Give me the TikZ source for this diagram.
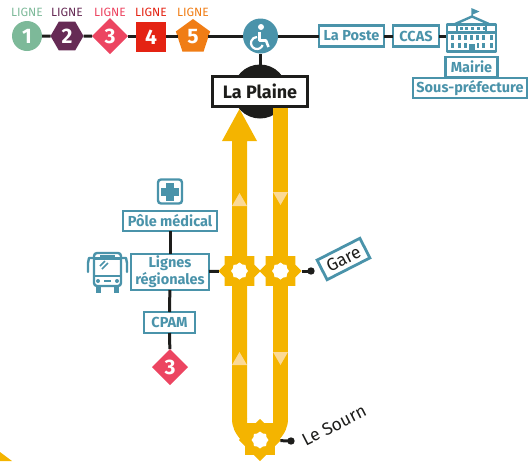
\documentclass[tikz,border=0pt]{standalone}
\usepackage{fontspec}
\setmainfont{Fira Sans}
\usepackage{tikz}
\usetikzlibrary{shapes}
\definecolor{Teal}{RGB}{74,147,170}
\definecolor{Ink}{RGB}{29,29,27}
\definecolor{Gold}{RGB}{244,180,0}
\definecolor{PaleGold}{RGB}{251,217,150}
\definecolor{LineOne}{RGB}{125,185,153}
\definecolor{LineTwo}{RGB}{102,43,85}
\definecolor{LineThree}{RGB}{236,69,97}
\definecolor{LineFour}{RGB}{228,35,19}
\definecolor{LineFive}{RGB}{240,125,21}
\tikzset{
	lineno/.style={text=white, inner sep=0pt, outer sep=0pt, font=\fontsize{21}{21}\selectfont\bfseries},
	linetag/.style={inner sep=0pt, font=\fontsize{12}{12}\selectfont},
	tealbox/.style={draw=Teal, line width=2.8pt, fill=white, text=Teal, inner sep=0pt, outer sep=0pt, align=center, font=\fontsize{14.5}{17}\selectfont\bfseries},
	link/.style={draw=Ink, line width=3pt},
	stationmark/.style={star, star points=8, star point ratio=1.3, minimum size=42pt, inner sep=0pt, outer sep=0pt, fill=Gold},
	stationhole/.style={star, star points=8, star point ratio=1.2, minimum size=17pt, inner sep=0pt, outer sep=0pt, fill=white},
	stopname/.style={text=Ink, inner sep=0pt, font=\fontsize{17.5}{18}\selectfont},
	icon/.style={draw=Teal, line width=2.4pt, line join=round},
}
\begin{document}
\begin{tikzpicture}[x=1pt,y=-1pt]
	\useasboundingbox (0,0) rectangle (528,461);

	\fill [Gold] (0,452) -- (12,461) -- (0,461) -- cycle;

	\node [linetag, text=LineOne] at (27,12) {LIGNE};
	\node [linetag, text=LineTwo] at (67,12) {LIGNE};
	\node [linetag, text=LineThree] at (110,12) {LIGNE};
	\node [linetag, text=LineFour] at (151,12) {LIGNE};
	\node [linetag, text=LineFive] at (193,12) {LIGNE};

	\node [lineno, fill=LineOne, circle, minimum size=30pt] (one) at (27,36) {1};
	\node [lineno, fill=LineTwo, regular polygon, regular polygon sides=6, minimum size=33pt] (two) at (67,36) {2};
	\node [lineno, fill=LineThree, diamond, minimum size=36pt] (three) at (110,36) {3};
	\node [lineno, fill=LineFour, minimum size=30pt] (four) at (151,37) {4};
	\node [lineno, fill=LineFive, regular polygon, regular polygon sides=5, minimum size=36pt] (five) at (193,37) {5};
	\node [fill=Teal, circle, minimum size=35pt, inner sep=0pt, outer sep=0pt] (access) at (260.5,36) {};

	\fill [white] (261,27) circle [radius=3];
	\draw [white, line width=2.2pt] (257,43) ++(20:6) arc [radius=6, start angle=20, end angle=270];
	\draw [white, line width=2.6pt, line join=round] (259.5,32) -- (259.5,40.5) -- (266,40.5) -- (268.5,47);

	\node [tealbox, minimum width=65pt, minimum height=21pt] (poste) at (351.5,36) {La Poste};
	\node [tealbox, minimum width=46pt, minimum height=21pt] (ccas) at (416,36) {CCAS};
	\node [tealbox, minimum width=52pt, minimum height=20pt] (mairie) at (471.5,67) {Mairie};
	\node [tealbox, minimum width=114pt, minimum height=20pt] (prefecture) at (470,88) {Sous-préfecture};
	\coordinate (townhall) at (446,36);

	\draw [link] (one) -- (two);
	\draw [link] (two) -- (three);
	\draw [link] (three) -- (three -| four.west);
	\draw [link] (one -| four.east) -- (one -| five.west);
	\draw [link] (one -| five.east) -- (access);
	\draw [link] (access) -- (poste);
	\draw [link] (poste) -- (ccas);
	\draw [link] (ccas) -- (townhall);

	\fill [Teal] (471.3,17) -- (471.3,8) -- (479.5,11.5) -- (472.8,14.5) -- (472.8,17) -- cycle;
	\draw [icon, fill=white] (455,24) -- (472,16.5) -- (489,24);
	\draw [icon, fill=white] (447,24.5) rectangle (496,51.5);
	\draw [icon] (447,32.5) -- (496,32.5);
	\draw [icon] (457,24.5) -- (457,32.5); \draw [icon] (486,24.5) -- (486,32.5);
	\foreach \x in {459.5,465,471,477,483}
		\fill [Teal] (\x,27) rectangle ++(3,3);
	\foreach \x in {450.5,458,464,470,476,482,489.5}{
		\fill [Teal] (\x,35) rectangle ++(3,5);
		\fill [Teal] (\x,43) rectangle ++(3,5);
	}
	\fill [white] (467.5,42) rectangle (476.5,50);
	\fill [Teal] (469,44) rectangle (475,52);

	\fill [Ink] (260,91.5) circle [radius=27];
	\node [draw=Ink, line width=3pt, fill=white, text=Ink, inner sep=0pt, outer sep=0pt, minimum width=95pt, minimum height=30pt, font=\fontsize{18}{18}\selectfont\bfseries] (plaine) at (260,91.5) {La Plaine};
	\draw [link] (access) -- (260.5,65);

	\fill [Gold] (239.5,109) -- (257,141) -- (247,141) -- (247,419) -- (232,419) -- (232,141) -- (222,141) -- cycle;
	\fill [Gold] (273,108) rectangle (288,419);
	\fill [Gold] (232,418.5) .. controls (232,427) and (235,433) .. (241,440) -- (279,440) .. controls (285,433) and (288,427) .. (288,418.5) -- (273,418.5) -- (273,423) -- (247,423) -- (247,418.5) -- cycle;

	\foreach \y in {193,352}
		\fill [PaleGold] (239.5,\y) -- ++(7.5,13) -- ++(-15,0) -- cycle;
	\foreach \y in {192,352}
		\fill [PaleGold] (280.5,\y+13) -- ++(7.5,-13) -- ++(-15,0) -- cycle;

	\node [stationmark] (west) at (239.5,271) {};
	\node [stationmark] (east) at (280.5,271) {};
	\node [stationmark] (sourn) at (260,440) {};
	\node [stationhole] at (west) {};
	\node [stationhole] at (east) {};
	\node [stationhole] at (sourn) {};

	\coordinate (gareend) at (311,271);
	\coordinate (sournend) at (291,441);
	\draw [link] (east) -- (gareend);
	\draw [link] (sourn) -- (sournend);
	\fill [Ink] (gareend) circle [radius=3.7];
	\fill [Ink] (sournend) circle [radius=3.7];
	\node [draw=Teal, line width=2.8pt, fill=white, minimum width=48pt, minimum height=22pt, rotate=27, stopname, inner sep=0pt] (gare) at (343.5,259) {Gare};
	\node [stopname, rotate=27] (sournlabel) at (334,425.5) {Le Sourn};

	\node [draw=Teal, line width=2.4pt, fill=white, rounded corners=3pt, minimum size=24pt, inner sep=0pt, outer sep=0pt] (health) at (170,191.5) {};
	\fill [Teal] (166,182.5) rectangle (174,200.5);
	\fill [Teal] (161,187.5) rectangle (179,195.5);

	\node [tealbox, minimum width=94pt, minimum height=20pt] (pole) at (170,221) {Pôle médical};
	\node [tealbox, minimum width=78pt, minimum height=36pt] (regional) at (170,272) {Lignes\\régionales};
	\node [tealbox, minimum width=51pt, minimum height=21pt] (cpam) at (169.5,322.5) {CPAM};
	\node [lineno, fill=LineThree, diamond, minimum size=36pt] (stop) at (170,367) {3};
	\draw [link] (pole) -- (regional);
	\draw [link] (regional) -- (cpam);
	\draw [link] (cpam) -- (stop);
	\draw [link] (regional) -- (west);

	\draw [icon, fill=white, rounded corners=3pt] (94,253) rectangle (121,286);
	\draw [icon] (95,276) -- (120,276);
	\draw [icon] (95,258.5) -- (120,258.5);
	\fill [Teal] (100,254.5) rectangle (115,256.5);
	\draw [icon, line width=1.5pt] (100,266) -- (105,261);
	\draw [icon, line width=1.5pt] (102,269) -- (108,263);
	\draw [icon, line cap=round] (93,258) -- (89,258) -- (88,263) -- (88,272);
	\draw [icon, line cap=round] (122,258) -- (126,258) -- (127,263) -- (127,272);
	\fill [Teal] (98,281) circle [radius=2];
	\fill [Teal] (117,281) circle [radius=2];
	\fill [Teal] (104,280) rectangle (111,282);
	\fill [Teal] (96,287) rectangle (101,293);
	\fill [Teal] (114,287) rectangle (119,293);
\end{tikzpicture}
\end{document}
